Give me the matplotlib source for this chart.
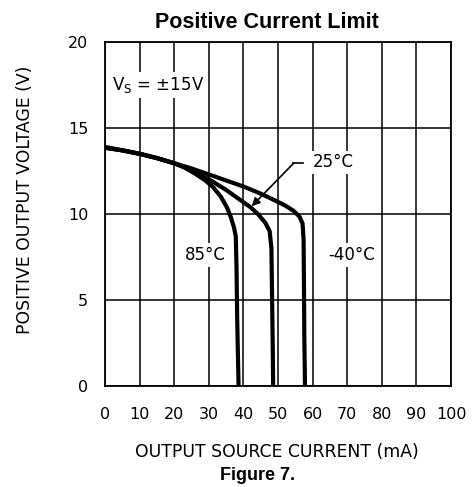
import matplotlib
matplotlib.use("Agg")
import matplotlib.pyplot as plt

# Data
x_85 = [0, 5, 10, 15, 20, 23, 26, 29, 31.3, 33.5, 35.2, 36.4, 37.3, 37.8, 38.0, 38.2, 38.4, 38.6]
y_85 = [13.85, 13.7, 13.5, 13.25, 12.95, 12.7, 12.35, 11.95, 11.55, 11.0, 10.4, 9.8, 9.2, 8.7, 7.0, 4.0, 2.0, 0.0]

x_25 = [0, 5, 10, 15, 20, 23, 27, 31, 35.0, 38.5, 42.0, 44.2, 46.3, 47.6, 48.1, 48.3, 48.5, 48.6]
y_25 = [13.85, 13.7, 13.5, 13.25, 12.95, 12.72, 12.35, 11.9, 11.4, 10.9, 10.4, 10.0, 9.5, 9.0, 8.0, 5.0, 2.0, 0.0]

x_m40 = [0, 5, 10, 15, 20, 25, 30, 35, 40, 44.8, 49, 52, 54.4, 56.2, 57.1, 57.4, 57.5, 57.6, 57.8]
y_m40 = [13.9, 13.7, 13.5, 13.25, 12.95, 12.65, 12.3, 11.95, 11.6, 11.2, 10.8, 10.5, 10.2, 9.85, 9.45, 8.5, 6.0, 3.0, 0.0]

x_ticks = [0, 10, 20, 30, 40, 50, 60, 70, 80, 90, 100]
y_ticks = [0, 5, 10, 15, 20]

W, H = 472, 487
fig = plt.figure(figsize=(W / 100, H / 100), dpi=100)
ax = fig.add_axes([105 / W, 1 - 386 / H, (451 - 105) / W, (386 - 42) / H])
ax.set_xlim(0, 100)
ax.set_ylim(0, 20)
ax.set_xticks(x_ticks)
ax.set_yticks(y_ticks)
ax.set_xticklabels([str(v) for v in x_ticks])
ax.set_yticklabels([str(v) for v in y_ticks])
ax.tick_params(length=0, labelsize=11.5, pad=15)
ax.tick_params(axis='y', pad=12)
ax.grid(True, color='black', linewidth=1.1)
ax.set_axisbelow(True)
for s in ax.spines.values():
    s.set_linewidth(1.3)
    s.set_zorder(5)

for xs, ys in [(x_85, y_85), (x_25, y_25), (x_m40, y_m40)]:
    ax.plot(xs, ys, color='black', linewidth=3.0, solid_capstyle='butt', zorder=4)

bbox = dict(facecolor='white', edgecolor='none', pad=2)
ax.text(2.0, 17.5, r'V$_\mathregular{S}$ = ±15V', fontsize=12, va='center', ha='left', bbox=bbox, zorder=3)
ax.text(28.9, 7.6, '85°C', fontsize=12, va='center', ha='center', bbox=bbox, zorder=3)
ax.text(71.2, 7.6, '-40°C', fontsize=12, va='center', ha='center', bbox=bbox, zorder=3)
ax.text(66.0, 13.0, '25°C', fontsize=12, va='center', ha='center', bbox=bbox, zorder=3)
ax.plot([57.3, 54.4], [12.95, 12.95], color='black', linewidth=1.2, zorder=4)
ax.annotate('', xy=(42.4, 10.45), xytext=(54.5, 12.95),
            arrowprops=dict(arrowstyle='-|>', color='black', lw=1.2, mutation_scale=12,
                            shrinkA=0, shrinkB=0), zorder=4)

fig.text(267 / W, 1 - 22 / H, 'Positive Current Limit', fontsize=15.5, fontweight='bold',
         family='Liberation Sans', ha='center', va='center')
fig.text(25 / W, 1 - 200 / H, 'POSITIVE OUTPUT VOLTAGE (V)', fontsize=12.4, rotation=90,
         ha='center', va='center')
fig.text(277 / W, 1 - 452 / H, 'OUTPUT SOURCE CURRENT (mA)', fontsize=12.4,
         ha='center', va='center')
fig.text(258 / W, 1 - 476 / H, 'Figure 7.', fontsize=13, fontweight='bold',
         family='Liberation Sans', ha='center', va='center')

fig.savefig('out.png', dpi=100)
